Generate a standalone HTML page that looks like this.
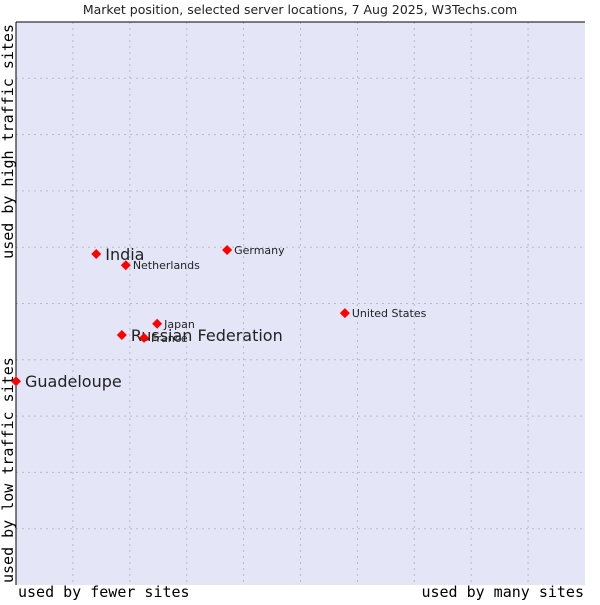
<!DOCTYPE html>
<html><head><meta charset="utf-8"><style>
body{margin:0;background:#fff;width:600px;height:600px;overflow:hidden}
svg text{font-family:"DejaVu Sans","Liberation Sans",sans-serif}
</style></head><body>
<svg width="600" height="600" xmlns="http://www.w3.org/2000/svg">
<text x="300" y="14" font-size="12.5" text-anchor="middle" fill="#222">Market position, selected server locations, 7 Aug 2025, W3Techs.com</text>
<rect x="16" y="22" width="569" height="563" fill="#e4e6f8"/>
<g id="grid"></g>
<line x1="16" y1="22" x2="585" y2="22" stroke="#000"/>
<line x1="16" y1="22" x2="16" y2="585" stroke="#000"/>
<g id="pts"></g>
<text x="18" y="597" font-size="15" style="font-family:'DejaVu Sans Mono',monospace">used by fewer sites</text>
<text x="584" y="597" font-size="15" text-anchor="end" style="font-family:'DejaVu Sans Mono',monospace">used by many sites</text>
<text transform="translate(13,583) rotate(-90)" font-size="15" style="font-family:'DejaVu Sans Mono',monospace">used by low traffic sites</text>
<text transform="translate(13,24) rotate(-90)" font-size="15" text-anchor="end" style="font-family:'DejaVu Sans Mono',monospace">used by high traffic sites</text>
</svg>
<script>
const names=["India","Netherlands","Germany","United States","Japan","Russian Federation","France","Guadeloupe"];
const xVals=[1.41,1.93,3.71,5.78,2.48,1.86,2.25,0];
const yVals=[5.88,5.68,5.95,4.83,4.64,4.44,4.39,3.62];
const big=[true,false,false,false,false,true,false,true];
const L=16,R=585,T=22,B=585;
const sx=v=>L+v/10*(R-L), sy=v=>B-v/10*(B-T);
const ns="http://www.w3.org/2000/svg";
const g=document.getElementById('grid');
for(let i=1;i<10;i++){
 const a=document.createElementNS(ns,'line');
 
 
 a.setAttribute('x1',sx(i));a.setAttribute('x2',sx(i));a.setAttribute('y1',T);a.setAttribute('y2',B);
 a.setAttribute('stroke','#bbb');a.setAttribute('stroke-dasharray','2,4');g.appendChild(a);
 const b=document.createElementNS(ns,'line');
 
 
 b.setAttribute('y1',sy(i));b.setAttribute('y2',sy(i));b.setAttribute('x1',L);b.setAttribute('x2',R);
 b.setAttribute('stroke','#bbb');b.setAttribute('stroke-dasharray','2,4');g.appendChild(b);
}
const p=document.getElementById('pts');
names.forEach((n,i)=>{
 const x=sx(xVals[i]),y=sy(yVals[i]);
 const d=document.createElementNS(ns,'polygon');
 
 
 d.setAttribute('points',`${x},${y-5} ${x+5},${y} ${x},${y+5} ${x-5},${y}`);
 d.setAttribute('fill','#f00');p.appendChild(d);
 const t=document.createElementNS(ns,'text');
 
 
 t.setAttribute('x',x+(big[i]?9:7));t.setAttribute('y',y+(big[i]?6:4));
 t.setAttribute('font-size',big[i]?16:11);t.setAttribute('fill','#222');
 t.textContent=n;p.appendChild(t);
});
</script>
</body></html>
